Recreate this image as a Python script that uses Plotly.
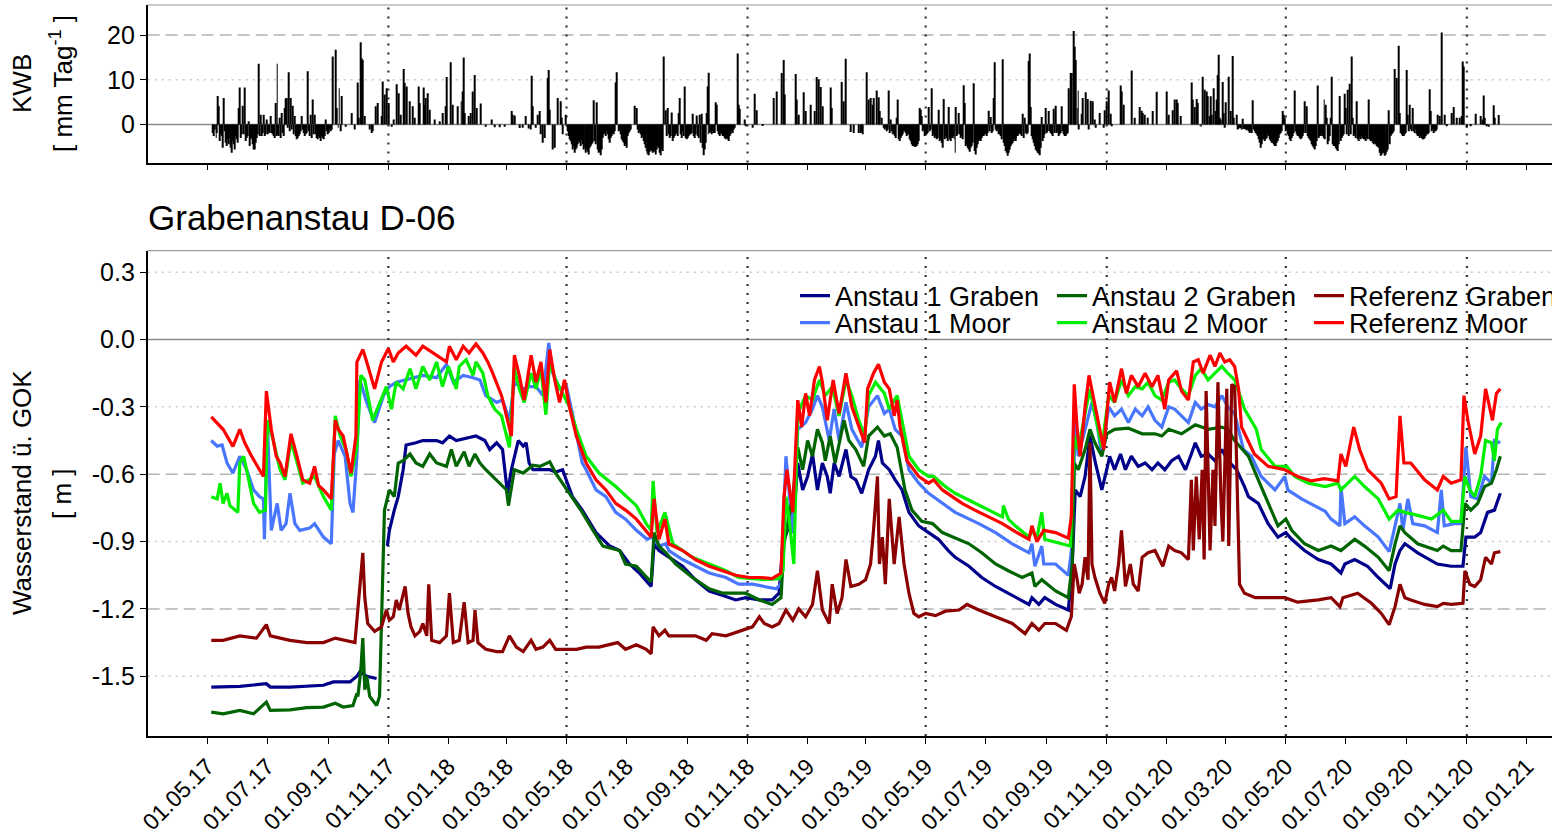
import pandas as pd
import plotly.graph_objects as go

# ---------------------------------------------------------------- data
# x values are days after 01.05.2017
START = pd.Timestamp("2017-05-01")

# climatic water balance, mm per day
KWB = [
    (5,-1.9),(6,-2.6),(7,-1.1),(9,-3.0),(10,-1.9),(11,6.4),(12,4.1),(13,-3.7),(14,-2.2),(15,-2.6),(16,-5.2),(17,5.9),
    (18,-1.5),(19,-4.1),(20,-4.8),(21,-3.3),(22,-4.4),(23,-3.0),(24,-5.2),(25,-6.3),(26,-3.7),(27,-4.4),(28,-5.6),
    (29,-2.6),(30,-3.3),(31,-4.1),(32,3.7),(33,8.3),(34,-3.0),(35,-2.2),(36,4.2),(37,-2.2),(38,8.3),(39,-3.7),(40,-3.0),
    (41,-2.6),(42,0.7),(43,-4.8),(44,-3.3),(45,-3.0),(46,-4.4),(47,-5.6),(48,-5.6),(49,-4.1),(50,-3.0),(51,-2.2),
    (52,13.6),(53,-2.6),(54,2.2),(55,-2.6),(56,-1.9),(57,2.2),(58,-2.6),(59,-2.2),(60,1.1),(61,-2.2),(62,-1.5),(63,-1.9),
    (64,1.9),(65,-1.9),(66,-2.2),(67,-2.6),(68,-3.0),(69,4.8),(70,-2.6),(71,13.6),(72,-2.2),(73,-2.6),(74,1.5),(75,-3.0),
    (76,2.6),(77,-1.9),(78,-2.6),(79,3.7),(80,5.8),(81,5.9),(82,-0.7),(83,11.7),(84,-1.5),(85,5.9),(86,-1.1),(87,4.2),
    (88,-2.2),(89,1.9),(90,-2.6),(91,-3.3),(92,-3.0),(93,-2.6),(94,-2.2),(95,-1.5),(96,1.9),(97,-1.1),(98,-1.9),(99,-2.6),
    (100,-2.2),(101,-1.9),(102,11.9),(103,-1.5),(104,-2.6),(105,2.2),(106,-3.0),(107,5.6),(108,-2.2),(109,2.2),(110,-2.2),
    (111,-3.0),(112,-3.3),(113,-2.6),(114,-3.0),(115,-3.7),(116,-2.6),(117,-3.0),(118,-3.3),(119,-2.6),(120,1.1),
    (121,-1.5),(122,-2.2),(123,-1.9),(124,-1.1),(125,-1.5),(126,-1.1),(127,15.2),(130,16.7),(131,3.7),(133,-0.7),
    (134,8.1),(136,-1.5),(137,6.4),(141,-0.5),(147,2.6),(150,-1.1),(153,9.4),(154,1.5),(156,18.4),(157,14.8),(158,14.4),
    (160,1.9),(165,-1.1),(167,-1.9),(168,-1.5),(171,4.1),(173,4.8),(177,1.9),(178,9.6),(180,6.7),(182,8.1),(184,4.8),
    (187,-0.5),(189,1.1),(192,9.0),(194,7.0),(197,2.2),(200,12.4),(201,9.3),(203,8.5),(206,5.2),(209,4.1),(211,1.5),
    (215,8.5),(216,4.8),(220,8.3),(221,4.4),(222,5.9),(224,7.0),(226,3.3),(231,1.1),(236,0.7),(239,2.6),(242,4.1),
    (243,10.6),(247,13.9),(249,4.4),(254,4.1),(258,5.2),(260,7.4),(261,15.0),(262,2.6),(266,1.9),(268,2.6),(270,7.4),
    (272,11.1),(274,3.7),(278,4.7),(283,-0.5),(289,1.1),(292,-0.6),(297,-0.6),(302,-0.5),(309,3.0),(310,2.2),(312,2.0),
    (317,-0.8),(320,-0.7),(324,1.9),(327,-0.9),(330,10.9),(331,4.1),(334,-0.7),(336,2.2),
    (338,3.0),(346,10.4),(347,12.2),(348,3.3),(356,5.9),(359,5.2),(360,1.5),(364,2.2),(393,5.4),(396,5.0),(415,9.4),
    (416,11.7),(434,4.2),(436,3.7),(464,15.2),(466,3.2),(468,3.7),(472,2.7),(479,2.6),(480,5.9),(485,8.5),(493,2.4),
    (497,2.0),(500,2.2),(502,2.4),(507,2.6),(508,8.5),(510,11.6),(517,5.0),(518,4.4),(539,15.9),(540,4.4),(541,3.5),
    (546,1.1),(556,6.9),(558,3.2),(576,5.9),(579,7.4),(584,11.5),(586,14.4),(587,6.7),(598,11.3),(599,5.6),(601,2.2),
    (606,7.2),(608,3.0),(613,4.4),(617,3.0),(619,10.6),(621,10.1),(623,8.4),(625,4.1),(633,8.3),(635,3.7),(645,9.5),
    (647,5.2),(649,14.7),
    (329,-1.1),(339,-2.2),(341,-4.1),(343,-3.0),(351,-5.6),(353,-5.2),(361,-2.2),(366,-1.5),(367,-2.6),(368,-3.3),
    (369,-3.7),(370,-4.4),(371,-5.6),(372,-4.8),(373,-6.3),(374,-5.6),(375,-5.2),(376,-4.4),(377,-3.7),(378,-4.1),
    (379,-4.8),(380,-3.5),(381,-4.4),(382,-5.6),(383,-5.2),(384,-4.8),(385,-6.3),(386,-5.6),(387,-6.1),(388,-6.7),
    (389,-5.2),(390,-4.8),(391,-4.4),(392,-4.0),(394,-3.7),(395,-4.4),(397,-5.6),(398,-6.3),(399,-6.1),(400,-6.9),
    (401,-5.6),(402,-3.0),(403,-2.2),(404,-1.9),(405,-2.6),(406,-1.5),(407,-2.2),(408,-3.3),(409,-4.1),(410,-3.0),
    (411,-2.6),(412,-1.9),(413,-2.2),(414,-1.5),(418,-1.5),(419,-1.1),(420,-2.2),(421,-3.3),(422,-3.7),(423,-4.1),
    (424,-4.8),(425,-4.4),(426,-5.2),(427,-2.6),(428,-1.9),(429,-1.5),(430,-1.1),(437,-1.1),(438,-1.9),(439,-1.5),
    (440,-2.2),(441,-3.0),(442,-2.6),(443,-3.7),(444,-4.4),(445,-5.2),(446,-5.9),(447,-6.7),(448,-6.3),(449,-6.9),
    (450,-6.1),(451,-5.6),(452,-5.9),(453,-6.3),(454,-5.9),(455,-6.1),(456,-6.7),(457,-5.6),(458,-4.8),(459,-5.2),
    (460,-6.3),(461,-6.9),(462,-5.6),(463,-5.9),(467,-2.6),(469,-2.2),(470,-3.0),(471,-2.6),(473,-3.7),(474,-3.0),
    (475,-2.6),(476,-2.2),(477,-1.9),(478,-2.6),(481,-2.2),(482,-3.0),(483,-1.5),(484,-2.6),(486,-3.0),(487,-3.3),
    (488,-3.0),(489,-2.6),(490,-2.2),(491,-2.2),(492,-1.9),(494,-2.6),(495,-3.0),(496,-2.2),(498,-2.6),(499,-3.0),
    (501,-4.1),(503,-5.2),(504,-6.9),(505,-5.6),(506,-4.1),(509,-2.2),(511,-1.9),(512,-1.5),(513,-2.2),(514,-1.5),
    (515,-1.9),(516,-1.9),(519,-1.5),(520,-2.2),(521,-2.6),(522,-1.9),(523,-2.2),(524,-2.6),(525,-2.6),(526,-3.0),
    (527,-3.3),(528,-3.0),(529,-3.3),(530,-3.7),(531,-2.6),(532,-2.2),(533,-1.5),(534,-1.9),(535,-1.1),(536,-0.7),
    (547,-0.4),(554,-0.7),(564,-0.2),(654,-1.7),(657,-1.9),(662,-1.9),(666,-2.2),
    (670,11.7),(672,5.6),(674,5.9),(676,4.4),(677,5.9),(680,7.6),(682,6.1),(683,3.0),(685,1.5),(692,7.6),(694,1.1),
    (701,1.5),(702,5.6),(724,3.7),(725,3.3),(726,1.9),(733,3.9),(736,8.1),(743,3.3),(748,5.7),(753,3.9),(761,3.9),
    (764,2.6),(769,8.8),(770,4.8),(779,9.2),(794,3.1),(796,1.7),(799,5.9),(800,13.9),(808,14.6),(829,2.4),(831,1.5),
    (835,14.2),(836,15.9),(837,3.9),(848,1.7),(852,3.7),(855,3.0),(860,3.5),(862,4.2),(868,4.1),(875,8.1),(877,11.5),
    (878,11.5),(880,20.9),(881,17.4),(882,14.4),(884,3.7),(885,7.6),(889,2.4),(890,5.9),(893,7.2),(895,5.7),(898,5.3),
    (900,5.2),(902,1.1),(907,2.6),(912,3.2),(914,5.2),(916,7.6),(918,2.4),(928,8.7),(929,7.4),(931,4.4),(939,12.1),
    (942,1.5),(948,3.9),(950,3.1),(951,2.6),(953,2.2),(956,1.5),(961,3.0),(965,7.3),(975,7.4),(977,2.2),(981,3.2),
    (983,5.6),(985,5.6),(986,4.8),(989,1.9),
    (664,-1.9),(665,-1.5),(687,-0.7),(688,-1.1),(689,-0.7),(690,-1.5),(691,-1.1),(693,-1.9),(695,-1.5),(696,-2.2),
    (697,-1.9),(698,-2.2),(699,-2.5),(700,-3.0),(703,-3.3),(704,-3.7),(705,-3.0),(706,-2.6),(707,-2.2),(708,-1.5),
    (709,-1.5),(710,-1.9),(711,-2.6),(712,-2.2),(713,-2.2),(714,-3.3),(715,-3.7),(716,-4.4),(717,-4.8),(718,-4.8),
    (719,-5.0),(720,-5.0),(721,-4.8),(722,-4.4),(723,-3.7),(727,-1.5),(728,-1.1),(729,-2.6),(730,-2.2),(731,-2.2),
    (732,-1.9),(734,-1.5),(735,-1.1),(737,-2.6),(738,-2.2),(739,-3.0),(740,-2.6),(741,-3.3),(742,-3.0),(744,-3.7),
    (745,-3.3),(746,-4.1),(747,-5.2),(749,-3.3),(750,-2.6),(751,-3.0),(752,-3.7),(754,-3.3),(755,-3.7),(756,-3.0),
    (757,-3.0),(758,-2.6),(759,-3.3),(760,-6.3),(762,-2.6),(763,-2.2),(765,-2.2),(766,-3.0),(767,-2.6),(768,-3.3),
    (771,-4.8),(772,-4.4),(773,-5.2),(774,-5.6),(775,-6.1),(776,-5.2),(777,-4.8),(778,-4.1),(780,-5.9),(781,-6.7),
    (782,-5.2),(783,-4.4),(784,-3.7),(785,-3.3),(786,-3.7),(787,-3.0),(788,-2.6),(789,-2.6),(790,-2.2),(791,-2.2),
    (792,-2.6),(793,-1.9),(795,-1.5),(797,-1.9),(798,-1.5),(801,-1.1),(802,-1.5),(803,-1.1),(804,-2.2),(805,-2.2),
    (806,-2.6),(807,-3.3),(809,-4.1),(810,-4.8),(811,-5.9),(812,-6.3),(813,-7.0),(814,-6.3),(815,-5.6),(816,-4.8),
    (817,-4.4),(818,-4.1),(819,-3.7),(820,-3.3),(821,-3.7),(822,-3.0),(823,-2.6),(824,-2.6),(825,-2.2),(826,-1.9),
    (827,-2.2),(828,-2.6),(830,-3.0),(832,-1.9),(833,-2.2),(834,-1.9),(838,-2.6),(839,-3.3),(840,-4.1),(841,-4.8),
    (842,-5.6),(843,-5.9),(844,-6.3),(845,-6.5),(846,-6.9),(847,-5.2),(849,-3.7),(850,-3.0),(851,-2.2),(853,-1.9),
    (854,-1.5),(856,-1.5),(857,-1.9),(858,-2.2),(859,-2.6),(861,-1.9),(863,-1.9),(864,-1.5),(865,-2.6),(866,-2.2),
    (867,-1.9),(869,-1.5),(870,-2.2),(871,-2.6),(872,-2.6),(873,-2.2),(874,-1.9),(886,-1.1),(896,-1.1),(903,-0.7),
    (911,-0.7),(919,-0.4),
    (1000,9.4),(1001,5.6),(1003,3.9),(1005,5.7),(1006,4.8),(1012,10.7),(1014,7.8),(1016,7.4),(1017,6.3),(1019,1.9),
    (1020,6.3),(1021,2.2),(1023,8.1),(1025,3.0),(1026,5.6),(1027,11.1),(1028,15.6),(1029,1.5),(1030,1.1),(1032,9.5),
    (1033,2.6),(1035,5.0),(1038,10.7),(1040,3.0),(1042,15.3),(1043,1.5),(1046,2.2),(1052,1.3),(1062,5.4),(1093,3.0),
    (1094,2.2),(1095,1.5),(1105,7.6),(1115,5.2),(1117,4.1),(1128,8.7),(1135,5.6),(1137,4.4),(1138,1.5),(1142,1.5),
    (1143,10.7),(1151,6.4),(1156,6.9),(1157,3.7),(1159,7.8),(1161,9.1),(1163,15.2),(1164,1.5),(1168,5.2),(1180,5.6),
    (1201,3.2),(1207,12.4),(1209,10.4),(1211,17.6),(1212,2.6),(1219,12.2),(1220,2.2),(1222,4.4),(1225,3.7),(1242,7.9),
    (1243,3.0),(1250,2.2),(1252,1.9),(1254,20.6),(1257,2.2),(1265,2.6),(1267,3.9),(1270,1.5),(1273,1.5),(1275,1.9),
    (1276,14.1),(1277,13.0),(1289,2.4),(1294,1.9),(1296,1.1),(1297,6.5),(1298,1.5),(1307,4.3),(1308,1.5),(1312,2.1),
    (1009,-0.4),(1010,-0.5),(1034,-0.7),(1047,-1.1),(1048,-0.9),(1049,-0.7),(1050,-0.8),(1051,-1.1),(1053,-1.0),
    (1054,-0.9),(1055,-1.1),(1056,-1.3),(1057,-1.1),(1058,-1.5),(1059,-1.9),(1060,-1.5),(1061,-1.9),(1063,-1.1),
    (1064,-1.5),(1065,-1.9),(1066,-2.2),(1067,-2.6),(1068,-3.3),(1069,-4.1),(1070,-5.2),(1071,-4.4),(1072,-3.7),
    (1073,-3.0),(1074,-3.3),(1075,-3.7),(1076,-3.3),(1077,-3.0),(1078,-2.2),(1079,-2.6),(1080,-3.3),(1081,-3.7),
    (1082,-4.1),(1083,-4.1),(1084,-4.4),(1085,-4.8),(1086,-4.8),(1087,-4.1),(1088,-3.7),(1089,-3.0),(1090,-2.2),
    (1091,-1.9),(1092,-1.5),(1096,-1.5),(1097,-1.1),(1098,-2.2),(1099,-2.6),(1100,-3.3),(1101,-3.7),(1102,-3.0),
    (1103,-2.6),(1104,-1.9),(1106,-1.5),(1107,-2.2),(1108,-2.6),(1109,-2.6),(1110,-3.0),(1111,-3.3),(1112,-3.0),
    (1113,-2.6),(1114,-1.9),(1116,-1.9),(1118,-2.6),(1119,-3.0),(1120,-3.3),(1121,-3.7),(1122,-4.4),(1123,-4.8),
    (1124,-5.2),(1125,-5.6),(1126,-4.8),(1127,-3.7),(1129,-3.0),(1130,-2.6),(1131,-2.6),(1132,-2.2),(1133,-2.6),
    (1134,-3.0),(1136,-3.3),(1139,-4.4),(1140,-3.7),(1141,-2.6),(1144,-4.4),(1145,-4.8),(1146,-4.8),(1147,-5.2),
    (1148,-5.6),(1149,-5.9),(1150,-4.4),(1152,-3.7),(1153,-3.0),(1154,-2.6),(1155,-2.2),(1158,-2.2),(1160,-2.6),
    (1162,-2.2),(1165,-2.6),(1166,-2.2),(1167,-3.0),(1169,-3.3),(1170,-3.7),(1171,-3.0),(1172,-3.3),(1173,-2.6),
    (1174,-3.0),(1175,-3.3),(1176,-3.3),(1177,-3.7),(1178,-3.0),(1179,-3.3),(1181,-3.3),(1182,-3.7),(1183,-3.7),
    (1184,-4.1),(1185,-4.4),(1186,-4.1),(1187,-4.4),(1188,-4.8),(1189,-5.0),(1190,-5.2),(1191,-6.3),(1192,-7.0),
    (1193,-6.7),(1194,-6.3),(1195,-6.3),(1196,-7.0),(1197,-6.7),(1198,-6.7),(1199,-6.1),(1200,-5.6),(1202,-4.4),
    (1203,-2.6),(1204,-2.2),(1205,-1.9),(1206,-1.5),(1213,-1.9),(1214,-2.2),(1215,-2.6),(1216,-2.6),(1217,-2.2),
    (1218,-1.9),(1221,-1.5),(1223,-1.1),(1224,-1.5),(1226,-1.5),(1227,-1.9),(1228,-1.1),(1229,-2.2),(1230,-2.6),
    (1231,-2.6),(1232,-3.0),(1233,-2.6),(1234,-3.0),(1235,-3.3),(1236,-3.3),(1237,-3.0),(1238,-2.6),(1239,-2.2),
    (1240,-2.2),(1241,-1.9),(1244,-1.5),(1245,-1.1),(1246,-1.9),(1247,-1.5),(1248,-1.5),(1249,-1.1),(1259,-0.4),
    (1280,-0.7),(1284,-0.4),(1300,-0.4),(1302,-0.5),
]

# water level above ground surface, m   (day, value)
A1_GRABEN = [
    (4,-1.548),(33,-1.545),(60,-1.533),(64,-1.548),(84,-1.548),(118,-1.54),(128,-1.525),(145,-1.525),(152,-1.50),
    (155,-1.48),(162,-1.50),(172,-1.51),(177,None),(183,-0.92),(185,-0.85),(190,-0.76),(194,-0.70),(199,-0.58),
    (202,-0.47),(212,-0.46),(219,-0.45),(226,-0.45),(233,-0.45),(239,-0.46),(246,-0.43),(253,-0.45),(263,-0.44),
    (273,-0.43),(282,-0.45),(287,-0.49),(294,-0.46),(300,-0.49),(305,-0.685),(309,-0.58),(316,-0.45),(321,-0.475),
    (324,-0.46),(327,-0.55),(331,-0.58),(338,-0.58),(348,-0.58),(354,-0.59),(361,-0.58),(366,-0.64),(371,-0.70),
    (381,-0.76),(385,-0.79),(395,-0.86),(409,-0.92),(419,-0.94),(429,-1.00),(439,-1.04),(451,-1.10),(454,-0.91),
    (459,-0.94),(469,-0.97),(483,-1.01),(496,-1.07),(510,-1.12),(524,-1.14),(537,-1.16),(547,-1.15),(561,-1.16),
    (574,-1.16),(581,-1.13),(585,-0.91),(591,-0.83),(595,-0.86),(600,-0.55),(605,-0.67),(610,-0.61),(615,-0.51),
    (620,-0.67),(625,-0.55),(630,-0.61),(633,-0.685),(637,-0.55),(642,-0.61),(649,-0.49),(654,-0.61),(659,-0.625),
    (665,-0.685),(672,-0.58),(679,-0.52),(682,-0.45),(686,-0.55),(693,-0.58),(699,-0.625),(706,-0.67),(713,-0.77),
    (723,-0.83),(733,-0.86),(743,-0.89),(753,-0.94),(760,-0.97),(774,-1.01),(787,-1.06),(801,-1.10),(814,-1.13),
    (828,-1.16),(835,-1.18),(838,-1.15),(845,-1.18),(851,-1.15),(862,-1.18),(875,-1.205),(879,-1.00),(882,-0.67),
    (887,-0.70),(892,-0.61),(897,-0.43),(902,-0.54),(909,-0.67),(914,-0.58),(917,-0.52),(922,-0.58),(928,-0.51),
    (933,-0.58),(939,-0.52),(946,-0.565),(953,-0.55),(960,-0.58),(966,-0.55),(973,-0.58),(980,-0.54),(987,-0.52),
    (994,-0.58),(1000,-0.51),(1004,-0.46),(1010,-0.52),(1017,-0.51),(1024,-0.54),(1031,-0.49),(1037,-0.54),
    (1046,-0.58),(1054,-0.655),(1058,-0.70),(1068,-0.73),(1078,-0.82),(1088,-0.88),(1096,-0.86),(1102,-0.89),
    (1115,-0.94),(1129,-0.98),(1142,-1.00),(1152,-1.04),(1156,-1.00),(1166,-0.98),(1179,-1.01),(1190,-1.06),
    (1202,-1.11),(1207,-1.00),(1212,-0.94),(1217,-0.91),(1230,-0.95),(1250,-1.00),(1264,-1.01),(1276,-1.01),
    (1279,-0.88),(1288,-0.88),(1294,-0.86),(1301,-0.77),(1308,-0.76),(1314,-0.685),
]

A1_MOOR = [
    (4,-0.45),(10,-0.475),(15,-0.47),(20,-0.55),(26,-0.595),(33,-0.52),(40,-0.58),(47,-0.67),(53,-0.70),(57,-0.71),
    (58,-0.89),(61,-0.37),(65,-0.85),(71,-0.73),(75,-0.85),(80,-0.82),(84,-0.685),(89,-0.82),(94,-0.85),(104,-0.84),
    (109,-0.82),(118,-0.88),(126,-0.91),(129,-0.51),(133,-0.45),(140,-0.52),(145,-0.73),(148,-0.77),(152,-0.52),
    (155,-0.18),(162,-0.28),(170,-0.37),(179,-0.25),(185,-0.21),(192,-0.19),(202,-0.18),(219,-0.16),(233,-0.17),
    (243,-0.11),(250,-0.19),(260,-0.16),(270,-0.17),(277,-0.18),(283,-0.25),(294,-0.28),(300,-0.27),(307,-0.36),
    (312,-0.19),(321,-0.22),(327,-0.21),(334,-0.21),(341,-0.25),(347,-0.015),(351,-0.15),(358,-0.22),(365,-0.21),
    (371,-0.33),(381,-0.55),(385,-0.58),(395,-0.67),(405,-0.70),(415,-0.77),(425,-0.80),(436,-0.85),(447,-0.89),
    (452,-0.88),(459,-0.92),(466,-0.91),(469,-0.94),(483,-0.98),(496,-1.01),(510,-1.04),(527,-1.06),(540,-1.09),
    (554,-1.09),(567,-1.10),(578,-1.11),(583,-1.09),(588,-0.52),(595,-0.86),(600,-0.40),(608,-0.37),(615,-0.31),
    (620,-0.25),(625,-0.30),(632,-0.45),(637,-0.31),(642,-0.45),(649,-0.28),(655,-0.40),(665,-0.48),(672,-0.30),
    (681,-0.25),(688,-0.33),(693,-0.31),(699,-0.40),(706,-0.43),(713,-0.58),(723,-0.64),(733,-0.685),(747,-0.73),
    (760,-0.77),(784,-0.82),(801,-0.86),(818,-0.91),(835,-0.95),(838,-0.91),(841,-1.01),(848,-0.92),(850,-1.00),
    (862,-1.00),(875,-1.05),(879,-0.91),(882,-0.34),(885,-0.52),(892,-0.40),(899,-0.28),(904,-0.37),(909,-0.52),
    (916,-0.30),(922,-0.34),(929,-0.31),(936,-0.37),(943,-0.31),(950,-0.34),(956,-0.30),(963,-0.36),(970,-0.39),
    (977,-0.30),(983,-0.31),(990,-0.34),(997,-0.37),(1004,-0.28),(1010,-0.31),(1017,-0.29),(1024,-0.30),(1031,-0.25),
    (1037,-0.30),(1044,-0.33),(1053,-0.49),(1061,-0.52),(1071,-0.61),(1085,-0.67),(1095,-0.61),(1098,-0.67),
    (1112,-0.71),(1125,-0.74),(1136,-0.765),(1142,-0.80),(1151,-0.83),(1152,-0.655),(1156,-0.82),(1166,-0.79),
    (1176,-0.83),(1190,-0.88),(1201,-0.945),(1207,-0.83),(1212,-0.73),(1215,-0.85),(1220,-0.71),(1225,-0.82),
    (1237,-0.83),(1250,-0.86),(1254,-0.67),(1257,-0.83),(1267,-0.82),(1274,-0.82),(1279,-0.48),(1284,-0.70),
    (1291,-0.71),(1298,-0.61),(1305,-0.64),(1308,-0.45),(1314,-0.46),
]

A2_GRABEN = [
    (4,-1.66),(16,-1.667),(33,-1.652),(47,-1.667),(60,-1.615),(64,-1.652),(84,-1.65),(101,-1.64),(118,-1.637),
    (130,-1.62),(138,-1.637),(148,-1.63),(152,-1.577),(153,-1.59),(156,-1.47),(158,-1.33),(160,-1.56),(162,-1.50),
    (165,-1.59),(172,-1.63),(175,-1.59),(178,-1.00),(180,-0.76),(185,-0.67),(190,-0.70),(194,-0.55),(199,-0.54),
    (206,-0.51),(212,-0.55),(219,-0.565),(226,-0.51),(233,-0.55),(243,-0.565),(248,-0.49),(253,-0.565),(261,-0.50),
    (266,-0.565),(272,-0.51),(277,-0.55),(283,-0.58),(294,-0.625),(304,-0.67),(306,-0.74),(312,-0.58),(321,-0.595),
    (331,-0.56),(338,-0.565),(348,-0.545),(354,-0.595),(361,-0.64),(371,-0.70),(381,-0.77),(392,-0.85),(402,-0.92),
    (419,-0.94),(425,-1.00),(436,-1.01),(446,-1.06),(451,-1.08),(454,-0.86),(459,-0.92),(466,-0.95),(476,-1.00),
    (493,-1.06),(510,-1.11),(524,-1.13),(537,-1.13),(547,-1.13),(561,-1.16),(574,-1.18),(583,-1.15),(586,-0.91),
    (591,-0.79),(595,-0.70),(600,-0.48),(605,-0.58),(610,-0.45),(615,-0.52),(620,-0.40),(625,-0.46),(628,-0.54),
    (633,-0.43),(638,-0.55),(647,-0.36),(652,-0.45),(659,-0.49),(667,-0.565),(672,-0.43),(681,-0.39),(688,-0.43),
    (694,-0.42),(701,-0.48),(709,-0.67),(716,-0.76),(726,-0.81),(737,-0.82),(747,-0.86),(760,-0.885),(774,-0.91),
    (787,-0.95),(801,-1.00),(814,-1.03),(828,-1.06),(838,-1.04),(841,-1.10),(848,-1.07),(862,-1.12),(875,-1.15),
    (879,-1.00),(881,-0.55),(885,-0.58),(892,-0.49),(897,-0.40),(902,-0.46),(909,-0.52),(914,-0.42),(922,-0.40),
    (936,-0.395),(950,-0.42),(963,-0.42),(970,-0.43),(977,-0.40),(990,-0.42),(1004,-0.38),(1017,-0.40),(1031,-0.39),
    (1037,-0.40),(1044,-0.45),(1058,-0.52),(1068,-0.625),(1078,-0.73),(1088,-0.83),(1096,-0.80),(1102,-0.85),
    (1115,-0.91),(1129,-0.94),(1142,-0.92),(1152,-0.94),(1166,-0.89),(1176,-0.92),(1190,-0.97),(1201,-1.03),
    (1207,-0.91),(1212,-0.83),(1217,-0.86),(1230,-0.91),(1250,-0.94),(1256,-0.92),(1264,-0.94),(1274,-0.94),
    (1278,-0.73),(1284,-0.76),(1291,-0.73),(1298,-0.655),(1305,-0.64),(1310,-0.58),(1314,-0.52),
]

A2_MOOR = [
    (4,-0.70),(10,-0.71),(13,-0.64),(16,-0.73),(20,-0.685),(23,-0.74),(31,-0.77),(33,-0.55),(37,-0.52),(40,-0.58),
    (47,-0.73),(53,-0.77),(59,-0.76),(61,-0.36),(67,-0.45),(74,-0.58),(79,-0.625),(85,-0.45),(91,-0.55),(97,-0.64),
    (109,-0.61),(118,-0.70),(126,-0.76),(130,-0.34),(135,-0.43),(141,-0.49),(146,-0.61),(152,-0.48),(156,-0.16),
    (160,-0.18),(168,-0.36),(175,-0.28),(182,-0.21),(187,-0.31),(192,-0.19),(199,-0.22),(206,-0.13),(212,-0.22),
    (219,-0.12),(226,-0.18),(233,-0.10),(239,-0.21),(245,-0.12),(253,-0.22),(256,-0.12),(263,-0.09),(270,-0.16),
    (273,-0.10),(280,-0.15),(285,-0.25),(292,-0.31),(299,-0.34),(307,-0.48),(312,-0.13),(317,-0.22),(322,-0.28),
    (329,-0.15),(334,-0.22),(339,-0.13),(344,-0.335),(348,-0.10),(354,-0.18),(361,-0.24),(368,-0.30),(375,-0.40),
    (385,-0.52),(398,-0.595),(415,-0.655),(436,-0.74),(446,-0.82),(451,-0.85),(453,-0.63),(457,-0.86),(465,-0.77),
    (473,-0.91),(493,-0.97),(510,-1.00),(527,-1.03),(540,-1.06),(554,-1.065),(567,-1.07),(581,-1.065),(585,-1.03),
    (588,-0.70),(591,-0.79),(596,-1.00),(600,-0.33),(608,-0.25),(615,-0.27),(622,-0.18),(628,-0.25),(635,-0.21),
    (642,-0.34),(649,-0.18),(655,-0.25),(662,-0.36),(668,-0.43),(672,-0.25),(679,-0.19),(688,-0.24),(693,-0.31),
    (701,-0.25),(706,-0.37),(713,-0.52),(723,-0.58),(733,-0.61),(738,-0.61),(750,-0.655),(760,-0.685),(767,-0.70),
    (780,-0.73),(794,-0.76),(808,-0.79),(809,-0.74),(814,-0.80),(821,-0.83),(835,-0.88),(838,-0.85),(843,-0.885),
    (848,-0.77),(851,-0.89),(868,-0.91),(877,-0.92),(881,-0.43),(885,-0.49),(892,-0.33),(897,-0.22),(902,-0.33),
    (909,-0.48),(916,-0.25),(922,-0.28),(929,-0.18),(936,-0.25),(943,-0.21),(950,-0.22),(956,-0.19),(963,-0.25),
    (970,-0.27),(977,-0.19),(983,-0.18),(990,-0.22),(997,-0.25),(1004,-0.16),(1010,-0.13),(1017,-0.18),(1024,-0.15),
    (1031,-0.12),(1037,-0.15),(1044,-0.18),(1054,-0.31),(1061,-0.36),(1066,-0.40),(1071,-0.49),(1085,-0.565),
    (1097,-0.565),(1105,-0.61),(1119,-0.64),(1136,-0.655),(1149,-0.64),(1152,-0.67),(1166,-0.61),(1176,-0.655),
    (1190,-0.71),(1201,-0.80),(1210,-0.76),(1217,-0.77),(1227,-0.78),(1244,-0.80),(1256,-0.76),(1264,-0.81),
    (1274,-0.81),(1278,-0.61),(1283,-0.67),(1288,-0.70),(1294,-0.61),(1299,-0.45),(1305,-0.46),(1308,-0.54),
    (1311,-0.40),(1315,-0.37),
]

REF_GRABEN = [
    (4,-1.34),(16,-1.34),(33,-1.32),(50,-1.33),(60,-1.27),(64,-1.32),(84,-1.34),(101,-1.35),(118,-1.35),(130,-1.33),
    (150,-1.35),(153,-1.205),(158,-0.95),(160,-1.15),(163,-1.265),(170,-1.30),(177,-1.28),(182,-1.205),(185,-1.25),
    (189,-1.235),(192,-1.16),(195,-1.205),(201,-1.10),(204,-1.22),(207,-1.28),(211,-1.32),(216,-1.30),(219,-1.265),
    (223,-1.32),(225,-1.09),(228,-1.34),(236,-1.35),(243,-1.32),(246,-1.13),(250,-1.35),(256,-1.34),(261,-1.17),
    (265,-1.35),(270,-1.34),(272,-1.205),(275,-1.35),(283,-1.38),(294,-1.39),(300,-1.39),(307,-1.32),(314,-1.37),
    (321,-1.39),(329,-1.34),(334,-1.38),(341,-1.37),(348,-1.34),(354,-1.38),(365,-1.38),(375,-1.38),(385,-1.37),
    (398,-1.37),(417,-1.35),(425,-1.38),(436,-1.36),(446,-1.38),(451,-1.40),(453,-1.28),(459,-1.32),(465,-1.295),
    (469,-1.32),(483,-1.32),(496,-1.32),(507,-1.34),(513,-1.31),(527,-1.32),(540,-1.30),(547,-1.29),(554,-1.28),
    (561,-1.235),(566,-1.265),(574,-1.28),(581,-1.265),(588,-1.205),(595,-1.25),(601,-1.20),(608,-1.235),(615,-1.18),
    (620,-1.03),(625,-1.205),(632,-1.265),(635,-1.09),(640,-1.22),(645,-1.15),(649,-0.98),(654,-1.10),(662,-1.09),
    (669,-1.07),(674,-1.00),(677,-0.85),(681,-0.61),(683,-1.00),(686,-0.88),(689,-1.09),(693,-0.71),(698,-1.00),
    (703,-0.79),(708,-1.00),(713,-1.13),(718,-1.22),(723,-1.235),(730,-1.22),(740,-1.23),(750,-1.21),(764,-1.205),
    (772,-1.18),(784,-1.205),(801,-1.235),(818,-1.265),(831,-1.31),(838,-1.265),(845,-1.295),(851,-1.265),
    (862,-1.265),(873,-1.295),(878,-1.235),(881,-1.00),(884,-1.07),(886,-1.13),(889,-1.09),(892,-0.97),(895,-1.07),
    (897,-0.46),(899,-1.00),(902,-1.06),(907,-1.13),(912,-1.175),(916,-1.09),(919,-1.06),(922,-1.12),(926,-1.00),
    (929,-0.85),(933,-1.10),(938,-1.00),(941,-1.09),(946,-1.12),(950,-0.97),(956,-0.95),(963,-0.94),(971,-1.01),
    (977,-0.92),(983,-0.94),(990,-0.95),(997,-0.98),(1000,-0.625),(1002,-0.94),(1005,-0.61),(1008,-0.89),
    (1011,-0.58),(1013,-0.98),(1015,-0.23),(1019,-0.94),(1022,-0.58),(1024,-0.83),(1027,-0.19),(1030,-0.70),
    (1032,-0.90),(1036,-0.22),(1038,-0.92),(1041,-0.20),(1044,-0.21),(1046,-0.55),(1049,-1.09),(1054,-1.13),
    (1065,-1.15),(1075,-1.15),(1095,-1.15),(1108,-1.17),(1129,-1.16),(1142,-1.15),(1151,-1.19),(1154,-1.15),
    (1169,-1.13),(1183,-1.175),(1193,-1.22),(1201,-1.27),(1207,-1.19),(1212,-1.09),(1217,-1.15),(1223,-1.16),
    (1237,-1.18),(1250,-1.19),(1256,-1.175),(1264,-1.18),(1276,-1.175),(1278,-1.03),(1283,-1.09),(1288,-1.10),
    (1294,-1.07),(1299,-0.97),(1305,-1.00),(1308,-0.95),(1314,-0.945),
]

REF_MOOR = [
    (4,-0.345),(16,-0.40),(26,-0.476),(33,-0.40),(38,-0.46),(45,-0.52),(53,-0.58),(57,-0.61),(60,-0.23),(65,-0.40),
    (70,-0.52),(74,-0.55),(79,-0.61),(85,-0.42),(91,-0.52),(97,-0.625),(104,-0.64),(109,-0.565),(113,-0.65),
    (118,-0.67),(126,-0.71),(130,-0.36),(133,-0.40),(138,-0.43),(146,-0.595),(151,-0.43),(152,-0.10),(158,-0.045),
    (162,-0.10),(170,-0.22),(177,-0.10),(184,-0.04),(189,-0.10),(194,-0.06),(202,-0.03),(212,-0.07),(219,-0.03),
    (233,-0.07),(243,-0.10),(246,-0.03),(253,-0.09),(260,-0.03),(266,-0.06),(273,-0.02),(280,-0.06),(285,-0.10),
    (290,-0.15),(299,-0.25),(305,-0.36),(309,-0.43),(312,-0.07),(317,-0.16),(322,-0.27),(329,-0.07),(334,-0.19),
    (339,-0.10),(344,-0.28),(348,-0.045),(353,-0.18),(358,-0.28),(363,-0.18),(368,-0.30),(375,-0.43),(385,-0.55),
    (395,-0.625),(405,-0.67),(415,-0.73),(425,-0.76),(436,-0.80),(446,-0.85),(451,-0.88),(454,-0.71),(459,-0.89),
    (465,-0.80),(469,-0.91),(483,-0.94),(496,-0.98),(510,-1.01),(524,-1.03),(537,-1.05),(551,-1.06),(561,-1.06),
    (574,-1.065),(583,-1.04),(586,-0.70),(589,-0.58),(595,-0.77),(600,-0.27),(604,-0.39),(608,-0.24),(612,-0.34),
    (617,-0.18),(622,-0.12),(625,-0.19),(630,-0.36),(636,-0.18),(642,-0.33),(649,-0.15),(655,-0.30),(662,-0.39),
    (668,-0.46),(671,-0.22),(677,-0.15),(682,-0.11),(688,-0.19),(693,-0.22),(698,-0.34),(701,-0.27),(704,-0.39),
    (711,-0.54),(723,-0.61),(733,-0.64),(738,-0.625),(747,-0.67),(760,-0.71),(767,-0.73),(780,-0.76),(794,-0.79),
    (808,-0.82),(821,-0.856),(835,-0.89),(838,-0.83),(843,-0.90),(850,-0.85),(862,-0.86),(875,-0.885),(878,-0.79),
    (881,-0.20),(884,-0.40),(887,-0.52),(892,-0.30),(896,-0.16),(900,-0.25),(906,-0.37),(911,-0.49),(917,-0.19),
    (922,-0.28),(929,-0.13),(934,-0.24),(939,-0.16),(946,-0.21),(953,-0.15),(960,-0.21),(966,-0.16),(973,-0.31),
    (977,-0.18),(985,-0.14),(990,-0.23),(997,-0.27),(1002,-0.10),(1007,-0.09),(1012,-0.15),(1019,-0.07),(1024,-0.12),
    (1029,-0.06),(1034,-0.10),(1039,-0.09),(1044,-0.12),(1048,-0.22),(1051,-0.39),(1064,-0.51),(1078,-0.565),
    (1095,-0.58),(1108,-0.61),(1122,-0.63),(1135,-0.62),(1149,-0.63),(1152,-0.51),(1157,-0.565),(1165,-0.39),
    (1171,-0.49),(1179,-0.58),(1193,-0.64),(1201,-0.71),(1208,-0.70),(1212,-0.34),(1216,-0.55),(1223,-0.55),
    (1237,-0.625),(1250,-0.67),(1256,-0.61),(1264,-0.64),(1274,-0.625),(1277,-0.25),(1281,-0.36),(1288,-0.51),
    (1294,-0.43),(1299,-0.22),(1306,-0.36),(1310,-0.24),(1314,-0.22),
]

SERIES = [
    ("Anstau 1 Graben", A1_GRABEN, "#00008B", "legend"),
    ("Anstau 1 Moor", A1_MOOR, "#4876FF", "legend2"),
    ("Anstau 2 Graben", A2_GRABEN, "#006400", "legend"),
    ("Anstau 2 Moor", A2_MOOR, "#00EE00", "legend2"),
    ("Referenz Graben", REF_GRABEN, "#8B0000", "legend"),
    ("Referenz Moor", REF_MOOR, "#FF0000", "legend2"),
]

TICK_DATES = pd.date_range("2017-05-01", "2021-01-01", freq="2MS")
TICK_TEXT = [d.strftime("%d.%m.%y") for d in TICK_DATES]
SEASON_DATES = ["2017-11-01", "2018-05-01", "2018-11-01", "2019-05-01",
                "2019-11-01", "2020-05-01", "2020-11-01"]
KWB_TICKS = [0, 10, 20]
WL_TICKS = [0.3, 0.0, -0.3, -0.6, -0.9, -1.2, -1.5]
WL_TICK_TEXT = ["0.3", "0.0", "-0.3", "-0.6", "-0.9", "-1.2", "-1.5"]


def to_xy(pairs):
    xs = [START + pd.Timedelta(days=d) for d, _ in pairs]
    ys = [v for _, v in pairs]
    return xs, ys


# ---------------------------------------------------------------- figure
W, H = 1552, 839
FONT = "Liberation Sans, Arial, sans-serif"

fig = go.Figure()

kx, ky = to_xy(KWB)
fig.add_trace(go.Bar(
    x=kx, y=ky, xaxis="x", yaxis="y", width=86400000,
    marker=dict(color="#000000", line=dict(width=0)), showlegend=False, hoverinfo="skip",
))

for name, pairs, color, leg in SERIES:
    xs, ys = to_xy(pairs)
    fig.add_trace(go.Scatter(
        x=xs, y=ys, name=name, mode="lines", xaxis="x2", yaxis="y2",
        line=dict(color=color, width=3.2), connectgaps=False, legend=leg,
    ))

x_left = 147.7 / W
x_range = [START + pd.Timedelta(days=-60.6), START + pd.Timedelta(days=1366.5)]

axis_common = dict(
    showline=True, linecolor="#000000", linewidth=1.8, ticks="outside", ticklen=6,
    tickwidth=1.4, tickcolor="#000000", showgrid=False, zeroline=False, automargin=False,
    tickfont=dict(family=FONT, size=25, color="#000000"),
)

shapes = []
# horizontal reference lines (value, colour, dash)
for panel, lines in (("", [(0, "#8c8c8c", "solid"), (10, "#c8c8c8", "2px,5px"), (20, "#b4b4b4", "12px,6px")]),
                     ("2", [(0.3, "#c8c8c8", "2px,5px"), (0.0, "#8c8c8c", "solid"), (-0.3, "#c8c8c8", "2px,5px"),
                            (-0.6, "#b4b4b4", "12px,6px"), (-0.9, "#c8c8c8", "2px,5px"),
                            (-1.2, "#b4b4b4", "12px,6px"), (-1.5, "#c8c8c8", "2px,5px")])):
    for val, col, dash in lines:
        shapes.append(dict(type="line", xref=f"x{panel} domain", x0=0, x1=1, yref=f"y{panel}",
                           y0=val, y1=val, line=dict(color=col, width=1.5, dash=dash), layer="below"))
    for d in SEASON_DATES:
        shapes.append(dict(type="line", xref=f"x{panel}", x0=d, x1=d, yref=f"y{panel} domain",
                           y0=0, y1=1, line=dict(color="#333333", width=2.2, dash="2px,7px"), layer="below"))
    shapes.append(dict(type="line", xref=f"x{panel} domain", x0=0, x1=1, yref=f"y{panel} domain",
                       y0=1, y1=1, line=dict(color="#9a9a9a", width=1.2), layer="below"))

legend_common = dict(
    orientation="h", xanchor="left", yanchor="middle", x=795 / W,
    entrywidth=212, entrywidthmode="pixels", bgcolor="rgba(0,0,0,0)",
    font=dict(family=FONT, size=27, color="#000000"), itemwidth=30, traceorder="normal",
)

fig.update_layout(
    width=W, height=H, margin=dict(l=0, r=0, t=0, b=0, autoexpand=False),
    paper_bgcolor="#ffffff", plot_bgcolor="#ffffff",
    font=dict(family=FONT, color="#000000"),
    xaxis=dict(domain=[x_left, 1], range=x_range, type="date", anchor="y",
               tickvals=TICK_DATES, showticklabels=False, **axis_common),
    yaxis=dict(domain=[(H - 162.5) / H, (H - 5) / H], range=[-8.5, 26.73], anchor="x",
               tickvals=KWB_TICKS, ticktext=[str(t) for t in KWB_TICKS], **axis_common),
    xaxis2=dict(domain=[x_left, 1], range=x_range, type="date", anchor="y2", matches="x",
                tickvals=TICK_DATES, ticktext=TICK_TEXT, tickangle=-45,
                **{**axis_common, "tickfont": dict(family=FONT, size=23, color="#000000")}),
    yaxis2=dict(domain=[(H - 736) / H, (H - 250.7) / H], range=[-1.766, 0.3955], anchor="x2",
                tickvals=WL_TICKS, ticktext=WL_TICK_TEXT, **axis_common),
    shapes=shapes,
    showlegend=True,
    legend=dict(y=(H - 296) / H, **legend_common),
    legend2=dict(y=(H - 323) / H, **legend_common),
    annotations=[
        dict(text="Grabenanstau D-06", xref="paper", yref="paper", x=146 / W, y=(H - 217) / H,
             xanchor="left", yanchor="middle", showarrow=False,
             font=dict(family=FONT, size=35, color="#000000")),
        dict(text="KWB", xref="paper", yref="paper", x=22 / W, y=(H - 84) / H, textangle=-90,
             xanchor="center", yanchor="middle", showarrow=False,
             font=dict(family=FONT, size=26, color="#000000")),
        dict(text="[ mm Tag<sup>-1</sup> ]", xref="paper", yref="paper", x=61 / W, y=(H - 84) / H,
             textangle=-90, xanchor="center", yanchor="middle", showarrow=False,
             font=dict(family=FONT, size=26, color="#000000")),
        dict(text="Wasserstand ü. GOK", xref="paper", yref="paper", x=22 / W, y=(H - 493) / H,
             textangle=-90, xanchor="center", yanchor="middle", showarrow=False,
             font=dict(family=FONT, size=26, color="#000000")),
        dict(text="[ m ]", xref="paper", yref="paper", x=62 / W, y=(H - 493) / H, textangle=-90,
             xanchor="center", yanchor="middle", showarrow=False,
             font=dict(family=FONT, size=26, color="#000000")),
    ],
)

fig.write_html("out.html", config={"displayModeBar": False})
